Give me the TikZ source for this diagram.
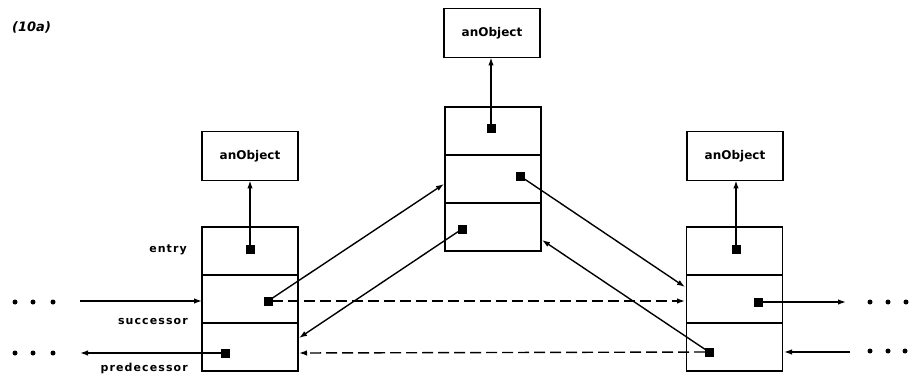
\documentclass[tikz,border=0pt]{standalone}
\usepackage{fontspec}
\setmainfont{DejaVu Sans}
\newfontfamily\lblfont[LetterSpace=10]{DejaVu Sans}
\usetikzlibrary{arrows.meta}
\begin{document}
\begin{tikzpicture}[x=1pt,y=-1pt,
  cell/.style={draw, line width=1.7pt, minimum width=96pt, minimum height=48pt, inner sep=0pt, outer sep=0pt},
  objbox/.style={draw, line width=1.7pt, minimum width=96pt, minimum height=49pt, inner sep=0pt, outer sep=0pt, font=\fontsize{12}{14}\selectfont\bfseries},
  ptr/.style={rectangle, fill=black, draw=black, minimum size=8pt, inner sep=0pt, outer sep=0pt},
  ell/.style={circle, fill=black, minimum size=5pt, inner sep=0pt},
  arr/.style={line width=1.4pt, -{Latex[length=8pt,width=5.5pt]}},
  dsh/.style={arr, dash pattern=on 11pt off 5pt},
  lbl/.style={anchor=east, inner sep=0pt, font=\lblfont\fontsize{11}{13}\selectfont\bfseries}]
\useasboundingbox (0,0) rectangle (916,377);

% title
\node[anchor=west, inner sep=0pt, font=\fontsize{13}{15}\selectfont\bfseries\itshape] (title) at (12,27) {(10a)};

% object boxes
\node[objbox] (LO) at (250,156) {anObject};
\node[objbox] (MO) at (492,33) {anObject};
\node[objbox] (RO) at (735,156) {anObject};

% left record
\node[cell] (L1) at (250,251) {};
\node[cell] (L2) at (250,299) {};
\node[cell] (L3) at (250,347) {};
% middle record
\node[cell] (M1) at (493,131) {};
\node[cell] (M2) at (493,179) {};
\node[cell] (M3) at (493,227) {};
% right record
\node[cell] (R1) at (734.5,251) {};
\node[cell] (R2) at (734.5,299) {};
\node[cell] (R3) at (734.5,347) {};

% pointer squares
\node[ptr] (Lp1) at (250,249) {};
\node[ptr] (Lp2) at (268,301) {};
\node[ptr] (Lp3) at (225,353) {};
\node[ptr] (Mp1) at (491,128) {};
\node[ptr] (Mp2) at (520,176) {};
\node[ptr] (Mp3) at (462,229) {};
\node[ptr] (Rp1) at (736,249) {};
\node[ptr] (Rp2) at (758,302) {};
\node[ptr] (Rp3) at (709,352) {};

% labels
\node[lbl] (lEntry) at (187,250) {entry};
\node[lbl] (lSucc) at (188,321) {successor};
\node[lbl] (lPred) at (188,368) {predecessor};

% ellipses
\node[ell] (e1) at (15,302) {};
\node[ell] (e2) at (33,302) {};
\node[ell] (e3) at (53,302) {};
\node[ell] (e4) at (15,353) {};
\node[ell] (e5) at (33,353) {};
\node[ell] (e6) at (53,353) {};
\node[ell] (e7) at (870,302) {};
\node[ell] (e8) at (888,302) {};
\node[ell] (e9) at (906,302) {};
\node[ell] (e10) at (870,351) {};
\node[ell] (e11) at (888,351) {};
\node[ell] (e12) at (905,351) {};

% edge points
\coordinate (inL) at (80,301);
\coordinate (inLend) at (202,301);
\coordinate (outL) at (80,353);
\coordinate (mL) at (444,184);
\coordinate (lR) at (299,338);
\coordinate (lR2) at (299,353);
\coordinate (rL1) at (685,287);
\coordinate (rL2) at (685,301);
\coordinate (mR) at (542,240);
\coordinate (outR) at (846,302);
\coordinate (inR) at (850,352);
\coordinate (inRend) at (784,352);

% connectors
\draw[arr] (Lp1) -- (Lp1 |- LO.south);
\draw[arr] (Mp1) -- (Mp1 |- MO.south);
\draw[arr] (Rp1) -- (Rp1 |- RO.south);
\draw[arr] (Lp2) -- (mL);
\draw[dsh] (Lp2) -- (rL2);
\draw[arr] (Mp3) -- (lR);
\draw[arr] (Mp2) -- (rL1);
\draw[arr] (Rp3) -- (mR);
\draw[dsh] (Rp3) -- (lR2);
\draw[arr] (inL) -- (inLend);
\draw[arr] (Lp3) -- (outL);
\draw[arr] (Rp2) -- (outR);
\draw[arr] (inR) -- (inRend);
\end{tikzpicture}
\end{document}
